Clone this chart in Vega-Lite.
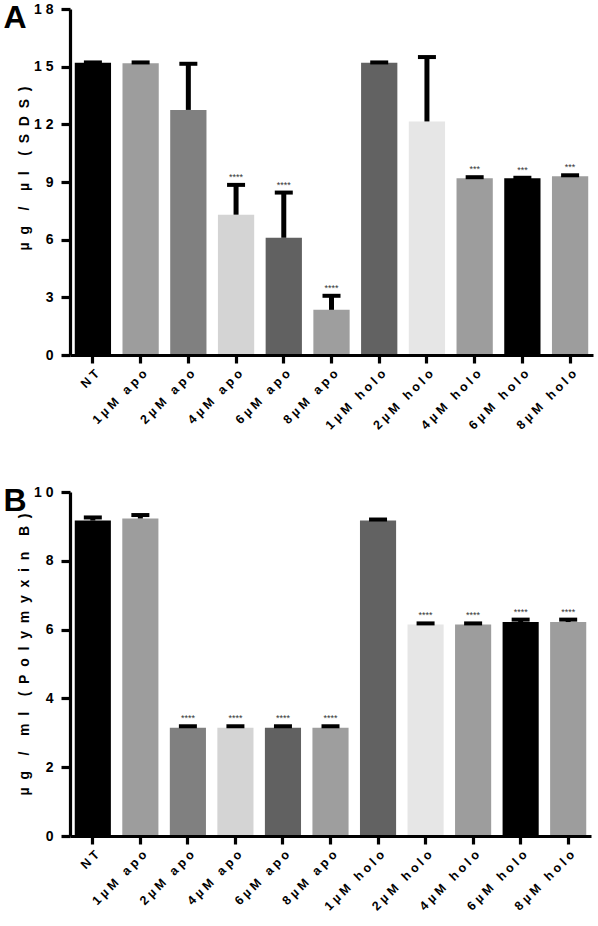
{
  "$schema": "https://vega.github.io/schema/vega-lite/v6.json",
  "padding": {"left": 3, "top": 2, "right": 2, "bottom": 2},
  "background": "white",
  "config": {
    "font": "Liberation Sans",
    "view": {"stroke": null},
    "title": {"font": "Liberation Sans", "fontWeight": "bold", "color": "#000000"}
  },
  "datasets": {
    "A": [
      {"group": "NT", "mean": 15.2, "upper": 15.22, "sig": ""},
      {"group": "1µM apo", "mean": 15.18, "upper": 15.22, "sig": ""},
      {"group": "2µM apo", "mean": 12.75, "upper": 15.15, "sig": ""},
      {"group": "4µM apo", "mean": 7.3, "upper": 8.85, "sig": "****"},
      {"group": "6µM apo", "mean": 6.1, "upper": 8.45, "sig": "****"},
      {"group": "8µM apo", "mean": 2.35, "upper": 3.08, "sig": "****"},
      {"group": "1µM holo", "mean": 15.2, "upper": 15.22, "sig": ""},
      {"group": "2µM holo", "mean": 12.15, "upper": 15.5, "sig": ""},
      {"group": "4µM holo", "mean": 9.2, "upper": 9.25, "sig": "***"},
      {"group": "6µM holo", "mean": 9.2, "upper": 9.22, "sig": "***"},
      {"group": "8µM holo", "mean": 9.3, "upper": 9.35, "sig": "***"}
    ],
    "B": [
      {"group": "NT", "mean": 9.17, "upper": 9.26, "sig": ""},
      {"group": "1µM apo", "mean": 9.23, "upper": 9.33, "sig": ""},
      {"group": "2µM apo", "mean": 3.15, "upper": 3.19, "sig": "****"},
      {"group": "4µM apo", "mean": 3.15, "upper": 3.19, "sig": "****"},
      {"group": "6µM apo", "mean": 3.15, "upper": 3.19, "sig": "****"},
      {"group": "8µM apo", "mean": 3.15, "upper": 3.19, "sig": "****"},
      {"group": "1µM holo", "mean": 9.17, "upper": 9.2, "sig": ""},
      {"group": "2µM holo", "mean": 6.15, "upper": 6.18, "sig": "****"},
      {"group": "4µM holo", "mean": 6.15, "upper": 6.18, "sig": "****"},
      {"group": "6µM holo", "mean": 6.22, "upper": 6.29, "sig": "****"},
      {"group": "8µM holo", "mean": 6.22, "upper": 6.29, "sig": "****"}
    ]
  },
  "spacing": 53,
  "vconcat": [
    {
      "title": {"text": "A", "anchor": "start", "frame": "bounds", "fontSize": 32, "offset": -33, "dx": -14},
      "width": 523, "height": 346,
      "data": {"name": "A"},
      "encoding": {
        "x": {"field": "group", "type": "nominal", "sort": null,
          "scale": {"paddingInner": 0.24, "paddingOuter": 0.1},
          "axis": {"title": null, "labelAngle": -45, "labelFontSize": 12.5, "labelFontWeight": "bold", "labelColor": "#000000", "labelFont": "Liberation Sans",
            "tickSize": 8, "labelPadding": 4, "grid": false,
            "domainWidth": 3.2, "domainColor": "#000000", "tickWidth": 3.2, "tickColor": "#000000", "zindex": 1,
            "labelExpr": "join(split(datum.label, ''), '\u00a0')"}},
        "y": {"field": "mean", "type": "quantitative", "scale": {"domain": [0, 18], "nice": false},
          "axis": {"values": [0, 3, 6, 9, 12, 15, 18], "labelFontSize": 14, "labelFontWeight": "bold", "labelColor": "#000000", "labelFont": "Liberation Sans",
            "tickSize": 9, "labelPadding": 8, "grid": false,
            "domainWidth": 3.2, "domainColor": "#000000", "tickWidth": 3.2, "tickColor": "#000000", "zindex": 1,
            "labelExpr": "join(split(datum.label, ''), '\u00a0')",
            "title": "µ\u00a0\u00a0g\u00a0\u00a0\u00a0\u00a0/\u00a0\u00a0\u00a0\u00a0µ\u00a0\u00a0l\u00a0\u00a0\u00a0\u00a0(\u00a0\u00a0S\u00a0\u00a0D\u00a0\u00a0S\u00a0\u00a0)", "titleFontSize": 14, "titleFontWeight": "bold", "titleColor": "#000000", "titleFont": "Liberation Sans", "titlePadding": 2, "titleY": 159}}
      },
      "layer": [
        {"mark": {"type": "bar"},
         "encoding": {
           "color": {"field": "group", "type": "nominal", "sort": null, "legend": null,
             "scale": {"domain": ["NT", "1µM apo", "2µM apo", "4µM apo", "6µM apo", "8µM apo", "1µM holo", "2µM holo", "4µM holo", "6µM holo", "8µM holo"],
               "range": ["#000000", "#9d9d9d", "#808080", "#d4d4d4", "#616161", "#9e9e9e", "#626262", "#e6e6e6", "#9d9d9d", "#000000", "#9d9d9d"]}}
         }},
        {"mark": {"type": "rule", "strokeWidth": 5, "color": "black"},
         "encoding": {"y2": {"field": "upper"}}},
        {"mark": {"type": "tick", "thickness": 4, "size": 18, "color": "black", "opacity": 1},
         "encoding": {"y": {"field": "upper", "type": "quantitative", "scale": {"domain": [0, 18], "nice": false},
          "axis": {"values": [0, 3, 6, 9, 12, 15, 18], "labelFontSize": 14, "labelFontWeight": "bold", "labelColor": "#000000", "labelFont": "Liberation Sans",
            "tickSize": 9, "labelPadding": 8, "grid": false,
            "domainWidth": 3.2, "domainColor": "#000000", "tickWidth": 3.2, "tickColor": "#000000", "zindex": 1,
            "labelExpr": "join(split(datum.label, ''), '\u00a0')",
            "title": "µ\u00a0\u00a0g\u00a0\u00a0\u00a0\u00a0/\u00a0\u00a0\u00a0\u00a0µ\u00a0\u00a0l\u00a0\u00a0\u00a0\u00a0(\u00a0\u00a0S\u00a0\u00a0D\u00a0\u00a0S\u00a0\u00a0)", "titleFontSize": 14, "titleFontWeight": "bold", "titleColor": "#000000", "titleFont": "Liberation Sans", "titlePadding": 2, "titleY": 159}}}},
        {"mark": {"type": "text", "fontSize": 9, "color": "#333333", "baseline": "bottom", "dy": -3},
         "encoding": {"y": {"field": "upper", "type": "quantitative", "scale": {"domain": [0, 18], "nice": false},
          "axis": {"values": [0, 3, 6, 9, 12, 15, 18], "labelFontSize": 14, "labelFontWeight": "bold", "labelColor": "#000000", "labelFont": "Liberation Sans",
            "tickSize": 9, "labelPadding": 8, "grid": false,
            "domainWidth": 3.2, "domainColor": "#000000", "tickWidth": 3.2, "tickColor": "#000000", "zindex": 1,
            "labelExpr": "join(split(datum.label, ''), '\u00a0')",
            "title": "µ\u00a0\u00a0g\u00a0\u00a0\u00a0\u00a0/\u00a0\u00a0\u00a0\u00a0µ\u00a0\u00a0l\u00a0\u00a0\u00a0\u00a0(\u00a0\u00a0S\u00a0\u00a0D\u00a0\u00a0S\u00a0\u00a0)", "titleFontSize": 14, "titleFontWeight": "bold", "titleColor": "#000000", "titleFont": "Liberation Sans", "titlePadding": 2, "titleY": 159}},
          "text": {"field": "sig"}}}
      ]
    },
    {
      "title": {"text": "B", "anchor": "start", "frame": "bounds", "fontSize": 32, "offset": -33, "dx": -14},
      "width": 521, "height": 344,
      "data": {"name": "B"},
      "encoding": {
        "x": {"field": "group", "type": "nominal", "sort": null,
          "scale": {"paddingInner": 0.24, "paddingOuter": 0.1},
          "axis": {"title": null, "labelAngle": -45, "labelFontSize": 12.5, "labelFontWeight": "bold", "labelColor": "#000000", "labelFont": "Liberation Sans",
            "tickSize": 8, "labelPadding": 4, "grid": false,
            "domainWidth": 3.2, "domainColor": "#000000", "tickWidth": 3.2, "tickColor": "#000000", "zindex": 1,
            "labelExpr": "join(split(datum.label, ''), '\u00a0')"}},
        "y": {"field": "mean", "type": "quantitative", "scale": {"domain": [0, 10], "nice": false},
          "axis": {"values": [0, 2, 4, 6, 8, 10], "labelFontSize": 14, "labelFontWeight": "bold", "labelColor": "#000000", "labelFont": "Liberation Sans",
            "tickSize": 9, "labelPadding": 8, "grid": false,
            "domainWidth": 3.2, "domainColor": "#000000", "tickWidth": 3.2, "tickColor": "#000000", "zindex": 1,
            "labelExpr": "join(split(datum.label, ''), '\u00a0')",
            "title": "µ\u00a0\u00a0g\u00a0\u00a0\u00a0\u00a0/\u00a0\u00a0\u00a0\u00a0m\u00a0\u00a0l\u00a0\u00a0\u00a0\u00a0(\u00a0\u00a0P\u00a0\u00a0o\u00a0\u00a0l\u00a0\u00a0y\u00a0\u00a0m\u00a0\u00a0y\u00a0\u00a0x\u00a0\u00a0i\u00a0\u00a0n\u00a0\u00a0\u00a0\u00a0B\u00a0\u00a0)", "titleFontSize": 14, "titleFontWeight": "bold", "titleColor": "#000000", "titleFont": "Liberation Sans", "titlePadding": 2, "titleY": 162}}
      },
      "layer": [
        {"mark": {"type": "bar"},
         "encoding": {"color": {"field": "group", "type": "nominal", "sort": null, "legend": null}}},
        {"mark": {"type": "rule", "strokeWidth": 5, "color": "black"},
         "encoding": {"y2": {"field": "upper"}}},
        {"mark": {"type": "tick", "thickness": 4, "size": 18, "color": "black", "opacity": 1},
         "encoding": {"y": {"field": "upper", "type": "quantitative", "scale": {"domain": [0, 10], "nice": false},
          "axis": {"values": [0, 2, 4, 6, 8, 10], "labelFontSize": 14, "labelFontWeight": "bold", "labelColor": "#000000", "labelFont": "Liberation Sans",
            "tickSize": 9, "labelPadding": 8, "grid": false,
            "domainWidth": 3.2, "domainColor": "#000000", "tickWidth": 3.2, "tickColor": "#000000", "zindex": 1,
            "labelExpr": "join(split(datum.label, ''), '\u00a0')",
            "title": "µ\u00a0\u00a0g\u00a0\u00a0\u00a0\u00a0/\u00a0\u00a0\u00a0\u00a0m\u00a0\u00a0l\u00a0\u00a0\u00a0\u00a0(\u00a0\u00a0P\u00a0\u00a0o\u00a0\u00a0l\u00a0\u00a0y\u00a0\u00a0m\u00a0\u00a0y\u00a0\u00a0x\u00a0\u00a0i\u00a0\u00a0n\u00a0\u00a0\u00a0\u00a0B\u00a0\u00a0)", "titleFontSize": 14, "titleFontWeight": "bold", "titleColor": "#000000", "titleFont": "Liberation Sans", "titlePadding": 2, "titleY": 162}}}},
        {"mark": {"type": "text", "fontSize": 9, "color": "#333333", "baseline": "bottom", "dy": -3},
         "encoding": {"y": {"field": "upper", "type": "quantitative", "scale": {"domain": [0, 10], "nice": false},
          "axis": {"values": [0, 2, 4, 6, 8, 10], "labelFontSize": 14, "labelFontWeight": "bold", "labelColor": "#000000", "labelFont": "Liberation Sans",
            "tickSize": 9, "labelPadding": 8, "grid": false,
            "domainWidth": 3.2, "domainColor": "#000000", "tickWidth": 3.2, "tickColor": "#000000", "zindex": 1,
            "labelExpr": "join(split(datum.label, ''), '\u00a0')",
            "title": "µ\u00a0\u00a0g\u00a0\u00a0\u00a0\u00a0/\u00a0\u00a0\u00a0\u00a0m\u00a0\u00a0l\u00a0\u00a0\u00a0\u00a0(\u00a0\u00a0P\u00a0\u00a0o\u00a0\u00a0l\u00a0\u00a0y\u00a0\u00a0m\u00a0\u00a0y\u00a0\u00a0x\u00a0\u00a0i\u00a0\u00a0n\u00a0\u00a0\u00a0\u00a0B\u00a0\u00a0)", "titleFontSize": 14, "titleFontWeight": "bold", "titleColor": "#000000", "titleFont": "Liberation Sans", "titlePadding": 2, "titleY": 162}},
          "text": {"field": "sig"}}}
      ]
    }
  ]
}
